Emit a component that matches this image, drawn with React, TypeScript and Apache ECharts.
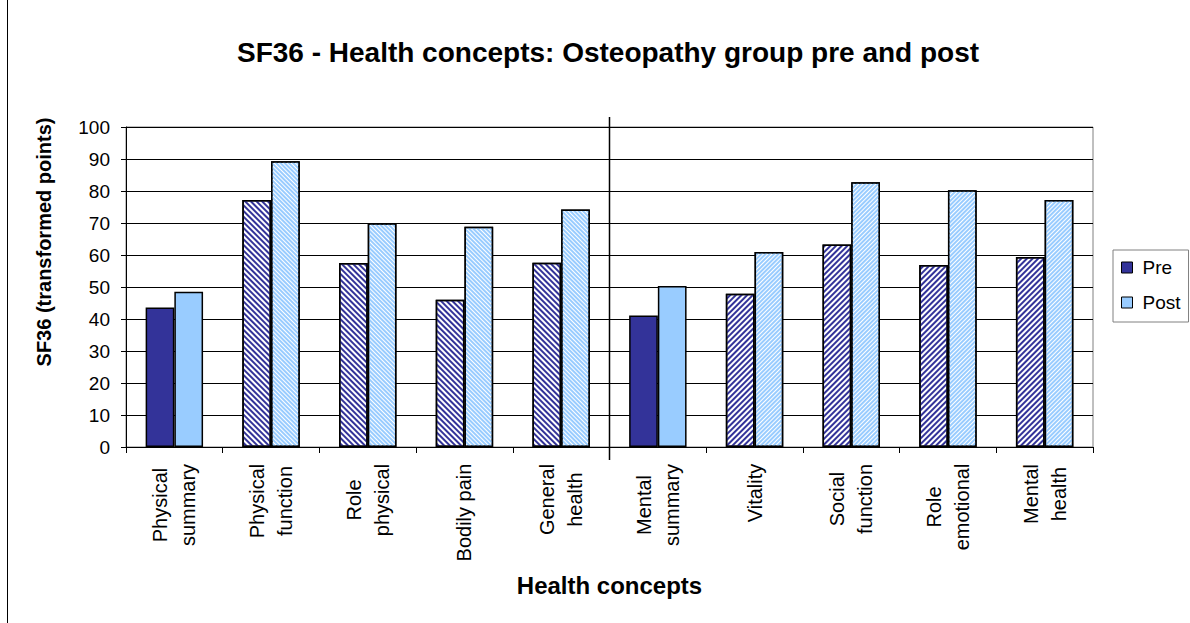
import React, { useEffect, useRef } from "react";
import * as echarts from "echarts";

// SF36 health concept scores (transformed points), osteopathy group
const categories = [
  "Physical\nsummary",
  "Physical\nfunction",
  "Role\nphysical",
  "Bodily pain",
  "General\nhealth",
  "Mental\nsummary",
  "Vitality",
  "Social\nfunction",
  "Role\nemotional",
  "Mental\nhealth",
];
const preValues = [43.6, 77.2, 57.5, 46.0, 57.6, 41.1, 47.9, 63.3, 56.9, 59.4];
const postValues = [48.5, 89.3, 69.9, 68.8, 74.2, 50.3, 60.9, 82.7, 80.2, 77.2];
// fill of each category: summary scores solid, physical sub-scales "\" hatch, mental sub-scales "/" hatch
const fills = ["solid", "back", "back", "back", "back", "solid", "fwd", "fwd", "fwd", "fwd"];
const yTicks = { min: 0, max: 100, interval: 10 };

const FONT = "'Liberation Sans', Arial, Helvetica, sans-serif";
const PRE_COLOR = "#333399";
const POST_COLOR = "#99CCFF";

function textWidth(s: string, font: string): number {
  const ctx = document.createElement("canvas").getContext("2d");
  if (!ctx) return s.length * 10;
  ctx.font = font;
  return ctx.measureText(s).width;
}

function hatch(color: string, dir: string, on: number, off: number) {
  return {
    symbol: "rect",
    symbolSize: 1,
    dashArrayX: [1, 0],
    dashArrayY: [on, off],
    rotation: dir === "back" ? Math.PI / 4 : -Math.PI / 4,
    color,
  };
}

function barData(values: number[], color: string, on: number, off: number) {
  return values.map((v, i) =>
    fills[i] === "solid"
      ? { value: v }
      : { value: v, itemStyle: { color: "#ffffff", decal: hatch(color, fills[i], on, off) } }
  );
}

export default function App() {
  const ref = useRef<HTMLDivElement>(null);

  useEffect(() => {
    document.body.style.margin = "0";
    if (!ref.current) return;
    const chart = echarts.init(ref.current, undefined, { renderer: "svg" });

    const labelSize = 20;
    const labelFont = `${labelSize}px ${FONT}`;
    const rich: Record<string, any> = {};
    categories.forEach((c, i) => {
      const w = Math.max(...c.split("\n").map((l) => textWidth(l, labelFont)));
      rich["c" + i] = {
        width: Math.ceil(w) + 1,
        align: "center",
        fontSize: labelSize,
        fontFamily: FONT,
        lineHeight: 28,
        color: "#000",
      };
    });

    chart.setOption({
      animation: false,
      backgroundColor: "#ffffff",
      title: {
        text: "SF36 - Health concepts: Osteopathy group pre and post",
        left: 603,
        top: 33,
        textAlign: "center",
        textStyle: { fontFamily: FONT, fontSize: 28, fontWeight: "bold", color: "#000" },
      },
      legend: {
        orient: "vertical",
        left: 1113,
        top: 250,
        padding: [8, 8, 10, 8],
        itemWidth: 11,
        itemHeight: 11,
        itemGap: 16,
        icon: "rect",
        borderColor: "#808080",
        borderWidth: 1,
        itemStyle: { borderColor: "#000", borderWidth: 1 },
        textStyle: { fontFamily: FONT, fontSize: 19, color: "#000", padding: [0, 0, 0, 5] },
        data: ["Pre", "Post"],
      },
      grid: {
        left: 126,
        right: 97,
        top: 127,
        bottom: 176,
        show: true,
        borderColor: "#808080",
        borderWidth: 1,
        backgroundColor: "transparent",
      },
      xAxis: {
        type: "category",
        data: categories,
        boundaryGap: true,
        name: "Health concepts",
        nameLocation: "middle",
        nameGap: 126,
        nameTextStyle: { fontFamily: FONT, fontSize: 24, fontWeight: "bold", color: "#000" },
        axisLine: { lineStyle: { color: "#000", width: 1 } },
        axisTick: { show: true, length: 6, lineStyle: { color: "#000" } },
        axisLabel: {
          interval: 0,
          rotate: 90,
          margin: 16,
          formatter: (v: string, i: number) =>
            v.split("\n").map((l) => `{c${i}|${l}}`).join("\n"),
          rich,
        },
      },
      yAxis: {
        type: "value",
        min: yTicks.min,
        max: yTicks.max,
        interval: yTicks.interval,
        axisLine: { show: true, lineStyle: { color: "#000", width: 1 } },
        axisTick: { show: true, length: 5, lineStyle: { color: "#000" } },
        axisLabel: { margin: 16, fontFamily: FONT, fontSize: 19, color: "#000" },
        splitLine: { show: true, lineStyle: { color: "#000", width: 1 } },
      },
      series: [
        {
          name: "Pre",
          type: "bar",
          data: barData(preValues, PRE_COLOR, 2, 2),
          barWidth: "29.7%",
          barGap: "0%",
          itemStyle: { color: PRE_COLOR, borderColor: "#000", borderWidth: 1.5 },
        },
        {
          name: "Post",
          type: "bar",
          data: barData(postValues, POST_COLOR, 2, 1),
          barWidth: "29.7%",
          barGap: "0%",
          itemStyle: { color: POST_COLOR, borderColor: "#000", borderWidth: 1.5 },
        },
      ],
    });

    // divider between the physical and mental concept groups, plus the frame edge
    const xA = chart.convertToPixel({ xAxisIndex: 0 }, 4) as number;
    const xB = chart.convertToPixel({ xAxisIndex: 0 }, 5) as number;
    const xDiv = (xA + xB) / 2;
    const yTop = chart.convertToPixel({ yAxisIndex: 0 }, yTicks.max) as number;
    const yBot = chart.convertToPixel({ yAxisIndex: 0 }, yTicks.min) as number;
    chart.setOption({
      graphic: [
        {
          type: "line",
          shape: { x1: xDiv, y1: yTop - 10, x2: xDiv, y2: yBot + 13 },
          style: { stroke: "#000", lineWidth: 1.5 },
        },
        {
          type: "line",
          shape: { x1: 7.5, y1: 0, x2: 7.5, y2: 623 },
          style: { stroke: "#000", lineWidth: 1 },
        },
        {
          type: "text",
          x: 44,
          y: 242,
          rotation: Math.PI / 2,
          style: {
            text: "SF36 (transformed points)",
            font: `bold 20px ${FONT}`,
            fill: "#000",
            align: "center",
            verticalAlign: "middle",
          },
        },
      ],
    });

    return () => chart.dispose();
  }, []);

  return <div ref={ref} style={{ width: 1190, height: 623 }} />;
}
